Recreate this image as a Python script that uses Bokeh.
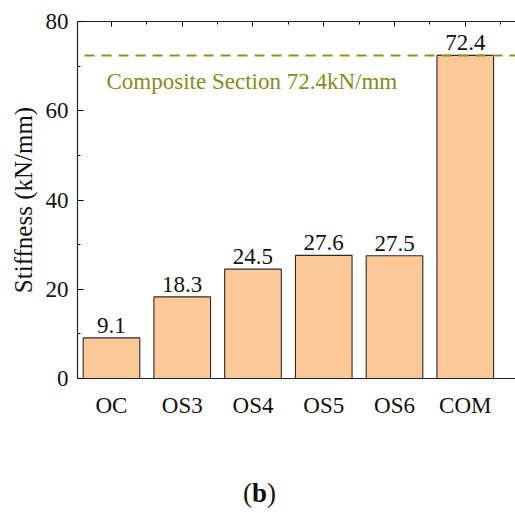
from bokeh.plotting import figure
from bokeh.models import (ColumnDataSource, FixedTicker, LinearAxis, Range1d, Div)
from bokeh.layouts import column
from bokeh.core.properties import value
from bokeh.embed import file_html
from bokeh.resources import INLINE

categories = ["OC", "OS3", "OS4", "OS5", "OS6", "COM"]
stiffness = [9.1, 18.3, 24.5, 27.6, 27.5, 72.4]
value_labels = ["9.1", "18.3", "24.5", "27.6", "27.5", "72.4"]
composite_value = 72.4
composite_text = "Composite Section 72.4kN/mm"
y_ticks = [0, 20, 40, 60, 80]
y_minor_ticks = [10, 30, 50, 70]
panel_label = "b"

FONT = "Liberation Serif"
positions = list(range(len(categories)))

src = ColumnDataSource(dict(x=positions, top=stiffness, lab=value_labels))

p = figure(width=515, height=450, output_backend="svg", toolbar_location=None,
           x_range=Range1d(-0.48, 5.71), y_range=Range1d(0, 80),
           min_border_left=77, min_border_top=21, min_border_bottom=72,
           min_border_right=0)
p.outline_line_color = None
p.grid.grid_line_color = None
p.background_fill_color = "white"
p.border_fill_color = "white"

p.vbar(x="x", top="top", width=0.8, source=src, fill_color="#fbc997",
       line_color="#2a2a2a", line_width=1.1)

p.text(x="x", y="top", text="lab", source=src, text_align="center",
       text_baseline="bottom", y_offset=-5, text_font=value(FONT),
       text_font_size="23px", text_color="#111111")

# dashed reference line for composite section
p.segment(x0=[-0.38], y0=[composite_value], x1=[6.0], y1=[composite_value],
          line_color="#8f8f1f", line_width=2, line_dash="10 7")
p.text(x=[-0.07], y=[composite_value], text=[composite_text], text_align="left",
       text_baseline="middle", y_offset=26, text_font=value(FONT),
       text_font_size="23px", text_color="#8a8a1c")

# bottom axis
xa = p.xaxis[0]
xa.ticker = FixedTicker(ticks=positions)
xa.major_label_overrides = {i: c for i, c in enumerate(categories)}
xa.major_tick_out = 0
xa.major_tick_in = 0
xa.minor_tick_out = 0
xa.minor_tick_in = 0
xa.major_label_text_font = FONT
xa.major_label_text_font_size = "23px"
xa.major_label_text_color = "#111111"
xa.major_label_standoff = 14
xa.axis_line_color = "#222222"
xa.axis_line_width = 1.2

# left axis
ya = p.yaxis[0]
ya.ticker = FixedTicker(ticks=y_ticks, minor_ticks=y_minor_ticks)
ya.major_tick_in = 6
ya.major_tick_out = 0
ya.minor_tick_in = 3
ya.minor_tick_out = 0
ya.major_label_text_font = FONT
ya.major_label_text_font_size = "23px"
ya.major_label_text_color = "#111111"
ya.major_label_standoff = 9
ya.axis_label = "Stiffness (kN/mm)"
ya.axis_label_text_font = FONT
ya.axis_label_text_font_size = "25px"
ya.axis_label_text_font_style = "normal"
ya.axis_label_text_color = "#111111"
ya.axis_label_standoff = 6
ya.axis_line_color = "#222222"
ya.axis_line_width = 1.2

# top axis (ticks only)
top_ax = LinearAxis(ticker=FixedTicker(ticks=positions,
                                       minor_ticks=[i + 0.5 for i in range(-1, 6)]),
                    major_label_text_font_size="0px", major_tick_in=5,
                    major_tick_out=0, minor_tick_in=3, minor_tick_out=0,
                    axis_line_color="#222222", axis_line_width=1.2,
                    major_label_standoff=0)
top_ax.major_label_overrides = {i: "" for i in positions}
p.add_layout(top_ax, "above")

# panel label "(b)"
div = Div(text=f"(<b>{panel_label}</b>)", width=515, height=63,
          styles={"font-family": "'Liberation Serif'", "font-size": "27px",
                  "color": "#111111", "text-align": "center", "width": "509px",
                  "padding-top": "22px", "line-height": "32px"})

layout = column(p, div, spacing=0)
open("out.html", "w").write(file_html(layout, INLINE))
